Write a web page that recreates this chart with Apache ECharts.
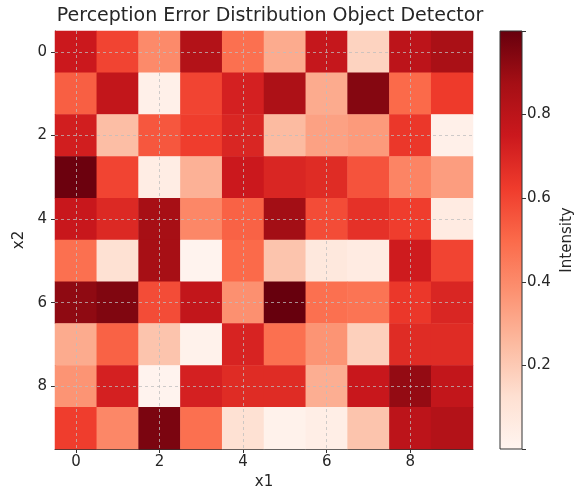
<!DOCTYPE html>
<html>
<head>
<meta charset="utf-8">
<script src="https://cdn.jsdelivr.net/npm/echarts@6/dist/echarts.min.js"></script>
<style>html,body{margin:0;padding:0;background:#fff}#c{width:575px;height:493px}</style>
</head>
<body>
<div id="c"></div>
<script>
const xLabels = ['0','1','2','3','4','5','6','7','8','9'];
const yLabels = ['0','1','2','3','4','5','6','7','8','9'];
const row0 = [0.75,0.60,0.40,0.83,0.48,0.30,0.77,0.17,0.80,0.86];
const row1 = [0.53,0.78,0.03,0.60,0.72,0.85,0.30,0.94,0.50,0.63];
const row2 = [0.73,0.24,0.55,0.62,0.70,0.25,0.33,0.35,0.64,0.03];
const row3 = [0.99,0.60,0.05,0.28,0.75,0.70,0.68,0.56,0.42,0.34];
const row4 = [0.76,0.69,0.87,0.41,0.52,0.88,0.58,0.66,0.62,0.06];
const row5 = [0.48,0.12,0.87,0.01,0.50,0.22,0.08,0.06,0.74,0.60];
const row6 = [0.92,0.95,0.58,0.78,0.38,1.00,0.48,0.47,0.64,0.70];
const row7 = [0.30,0.52,0.22,0.02,0.71,0.48,0.37,0.18,0.68,0.68];
const row8 = [0.37,0.72,0.01,0.72,0.68,0.68,0.29,0.76,0.91,0.78];
const row9 = [0.62,0.41,0.96,0.48,0.12,0.02,0.04,0.22,0.80,0.83];
const gridTicks = ['0','2','4','6','8'];
const cbTicks = [0.2,0.4,0.6,0.8];
const reds = ['#fff5f0','#fee0d2','#fcbba1','#fc9272','#fb6a4a','#ef3b2c','#cb181d','#a50f15','#67000d'];

const rows = [row0,row1,row2,row3,row4,row5,row6,row7,row8,row9];
const heat = [];
rows.forEach((r, yi) => r.forEach((v, xi) => heat.push([xi, yi, v])));

const font = 'DejaVu Sans';
const txt = '#262626';
const chart = echarts.init(document.getElementById('c'), null, {renderer: 'canvas'});
const markData = gridTicks.map(t => ({xAxis: t})).concat(gridTicks.map(t => ({yAxis: t})));

chart.setOption({
  animation: false,
  backgroundColor: '#ffffff',
  title: {
    text: 'Perception Error Distribution Object Detector',
    left: 265, top: 2, textAlign: 'center',
    textStyle: {fontFamily: font, fontSize: 19, fontWeight: 'normal', color: txt}
  },
  grid: [
    {left: 55, top: 31, width: 418, height: 418, show: false, containLabel: false, outerBoundsMode: 'none'},
    {left: 500, top: 31, width: 22, height: 418, show: true, borderColor: '#333', borderWidth: 1,
     backgroundColor: 'transparent', z: 10, containLabel: false, outerBoundsMode: 'none'}
  ],
  xAxis: [
    {type: 'category', gridIndex: 0, data: xLabels, position: 'bottom',
     name: 'x1', nameLocation: 'middle', nameGap: 26,
     nameTextStyle: {fontFamily: font, fontSize: 15, color: txt},
     axisLine: {show: true, lineStyle: {color: '#333', width: 1}},
     axisTick: {show: true, alignWithLabel: true, interval: 1, length: 4, lineStyle: {color: '#333'}},
     axisLabel: {interval: 1, margin: 6, fontFamily: font, fontSize: 15, color: txt},
     splitLine: {show: false}},
    {type: 'category', gridIndex: 1, data: [''], show: false}
  ],
  yAxis: [
    {type: 'category', gridIndex: 0, data: yLabels, inverse: true,
     name: 'x2', nameLocation: 'middle', nameGap: 24, nameRotate: 90,
     nameTextStyle: {fontFamily: font, fontSize: 15, color: txt},
     axisLine: {show: true, lineStyle: {color: '#333', width: 1}},
     axisTick: {show: true, alignWithLabel: true, interval: 1, length: 4, lineStyle: {color: '#333'}},
     axisLabel: {interval: 1, margin: 8, fontFamily: font, fontSize: 15, color: txt},
     splitLine: {show: false}},
    {type: 'value', gridIndex: 1, min: 0, max: 1, interval: 0.2, position: 'right',
     name: 'Intensity', nameLocation: 'middle', nameGap: 38, nameRotate: 90,
     nameTextStyle: {fontFamily: font, fontSize: 15, color: txt},
     axisLine: {show: false},
     axisTick: {show: true, inside: false, length: 4, lineStyle: {color: '#333'}},
     axisLabel: {margin: 5, fontFamily: font, fontSize: 15, color: txt,
       formatter: v => cbTicks.some(t => Math.abs(t - v) < 1e-6) ? v.toFixed(1) : ''},
     splitLine: {show: false}}
  ],
  visualMap: {
    show: false, type: 'continuous', seriesIndex: 0, min: 0, max: 1,
    inRange: {color: reds}
  },
  series: [
    {type: 'heatmap', xAxisIndex: 0, yAxisIndex: 0, data: heat,
     emphasis: {disabled: true},
     markLine: {
       silent: true, symbol: ['none', 'none'], label: {show: false},
       lineStyle: {color: 'rgba(190,190,190,0.75)', type: [3, 3], width: 1},
       data: markData
     }},
    {type: 'bar', xAxisIndex: 1, yAxisIndex: 1, data: [1], barWidth: '100%', silent: true,
     itemStyle: {color: {type: 'linear', x: 0, y: 1, x2: 0, y2: 0,
       colorStops: reds.map((c, i) => ({offset: i / (reds.length - 1), color: c}))}}}
  ]
});
</script>
</body>
</html>
